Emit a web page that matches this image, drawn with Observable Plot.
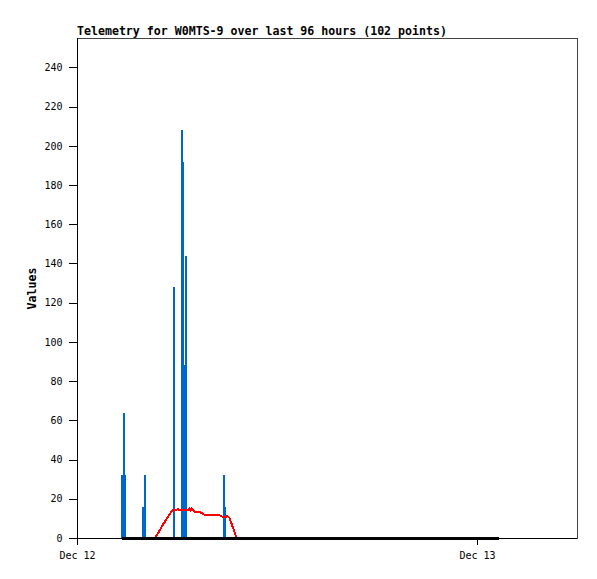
<!DOCTYPE html>
<html>
<head>
<meta charset="utf-8">
<script src="https://cdn.jsdelivr.net/npm/d3@7"></script>
<script src="https://cdn.jsdelivr.net/npm/@observablehq/plot@0.6"></script>
<style>
  html, body { margin: 0; padding: 0; background: #fff; }
  #title { height: 30px; box-sizing: border-box; padding: 25px 0 0 77px; font: bold 11.6px "DejaVu Sans Mono", monospace; line-height: 12px; color: #000; white-space: nowrap; overflow: visible; }
</style>
</head>
<body>
<div id="title">Telemetry for W0MTS-9 over last 96 hours (102 points)</div>
<div id="chart"></div>
<script>
// Base time: Dec 12, 00:00 UTC; all times are hour offsets from it
const baseTime = Date.UTC(2023, 11, 12, 0, 0);
const xDomainHours = [0, 30];
const xTickHours = [0, 24];
const yTicks = [0, 20, 40, 60, 80, 100, 120, 140, 160, 180, 200, 220, 240];

// Blue series (spikes)
const blueHours  = [2.69, 2.76, 2.83, 3.93, 4.02, 5.76, 6.24, 6.30, 6.37, 6.48, 8.76, 8.85];
const blueValues = [32,   64,   32,   16,   32,   128,  208,  192,  88,   144,  32,   16];

// Red series
const redHours  = [4.68, 5.16, 5.68, 5.94, 6.00, 6.12, 6.48, 6.66, 6.72, 6.78, 6.84, 6.93, 7.02, 7.44, 7.59, 8.46, 8.58, 8.70, 8.88, 9.00, 9.12, 9.54];
const redValues = [0.5,  7.5,  14.3, 14.5, 15.1, 14.4, 14.5, 14.5, 15.4, 14.2, 15.3, 14.4, 13.6, 13.2, 12.2, 12.2, 11.6, 11.0, 10.8, 11.5, 10.5, 0.4];

// Black series (flat at zero)
const blackHours  = [2.70, 6.00, 12.00, 18.00, 25.26];
const blackValues = [0, 0, 0, 0, 0];

const t = h => new Date(baseTime + h * 3600e3);
const blue = blueHours.map((h, i) => ({time: t(h), value: blueValues[i]}));
const red = redHours.map((h, i) => ({time: t(h), value: redValues[i]}));
const black = blackHours.map((h, i) => ({time: t(h), value: blackValues[i]}));

const fmt = d3.utcFormat("%b %d");

const plot = Plot.plot({
  width: 597,
  height: 549,
  marginLeft: 77,
  marginRight: 20,
  marginTop: 8,
  marginBottom: 41,
  style: {fontFamily: "'DejaVu Sans Mono', monospace", fontSize: "10px", color: "#000", background: "#fff"},
  x: {type: "utc", domain: xDomainHours.map(t)},
  y: {domain: [0, 255]},
  marks: [
    Plot.frame({stroke: "#444", strokeWidth: 1}),
    Plot.axisY({ticks: yTicks, tickSize: 8, tickPadding: 7, label: null, tickFormat: d => String(d)}),
    Plot.axisX({ticks: xTickHours.map(t), tickSize: 7, tickPadding: 6, label: null, tickFormat: fmt}),
    Plot.ruleX(blue, {x: "time", y1: 0, y2: "value", stroke: "#0066cc", strokeWidth: 2}),
    Plot.line(red, {x: "time", y: "value", stroke: "#ff0000", strokeWidth: 2, curve: "linear"}),
    Plot.line(black, {x: "time", y: "value", stroke: "#000", strokeWidth: 2.2}),
    Plot.ruleY([0], {stroke: "#000", strokeWidth: 1}),
    Plot.ruleX([t(0)], {stroke: "#000", strokeWidth: 1}),
    Plot.text(["Values"], {frameAnchor: "left", textAnchor: "middle", rotate: -90, dx: -45, fontWeight: "bold", fontSize: 11.6})
  ]
});
plot.style.shapeRendering = "crispEdges";
document.getElementById("chart").appendChild(plot);
</script>
</body>
</html>
